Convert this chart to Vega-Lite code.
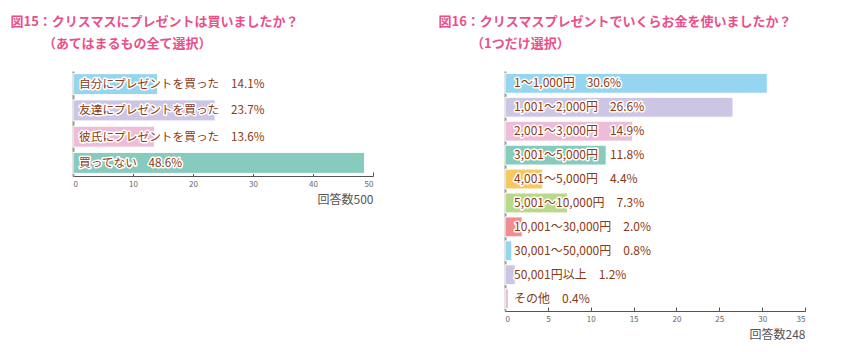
{
  "$schema": "https://vega.github.io/schema/vega-lite/v6.json",
  "background": "white",
  "padding": {"left": 10, "top": 16, "right": 5, "bottom": 5},
  "autosize": {"type": "pad"},
  "config": {
    "view": {"stroke": null},
    "font": "Noto Sans CJK JP",
    "concat": {"spacing": 64},
    "title": {"anchor": "start", "fontSize": 13, "fontWeight": "bold", "color": "#e9508a", "lineHeight": 22, "offset": 20},
    "axisX": {"grid": false, "tickSize": -4, "tickColor": "#555", "domainColor": "#555", "labelFontSize": 8, "labelColor": "#666", "labelPadding": 8, "titleAnchor": "end", "titleAlign": "right", "titleFontWeight": "normal", "titleFontSize": 12, "titleColor": "#555", "titlePadding": 6},
    "axisY": {"labels": false, "ticks": false, "title": null, "domainColor": "#999", "domainWidth": 2, "grid": false}
  },
  "resolve": {"scale": {"color": "independent"}},
  "hconcat": [
    {
      "width": 300,
      "height": 105,
      "title": {"text": ["図15：クリスマスにプレゼントは買いましたか？", "\u200b\u3000\u3000\u3000（あてはまるもの全て選択）"], "dx": -62},
      "data": {"values": [
        {"label": "自分にプレゼントを買った", "pct": 14.1, "text": "自分にプレゼントを買った　14.1%"},
        {"label": "友達にプレゼントを買った", "pct": 23.7, "text": "友達にプレゼントを買った　23.7%"},
        {"label": "彼氏にプレゼントを買った", "pct": 13.6, "text": "彼氏にプレゼントを買った　13.6%"},
        {"label": "買ってない", "pct": 48.6, "text": "買ってない　48.6%"}
      ]},
      "encoding": {
        "y": {"field": "label", "type": "nominal", "sort": null, "scale": {"paddingInner": 0.2, "paddingOuter": 0.1}}
      },
      "layer": [
        {
          "mark": {"type": "bar", "stroke": "white", "strokeWidth": 1},
          "encoding": {
            "x": {"field": "pct", "type": "quantitative", "scale": {"domain": [0, 50]}, "axis": {"values": [0, 10, 20, 30, 40, 50], "title": "回答数500"}},
            "color": {"field": "label", "type": "nominal", "legend": null, "scale": {"domain": ["自分にプレゼントを買った", "友達にプレゼントを買った", "彼氏にプレゼントを買った", "買ってない"], "range": ["#96d5f0", "#ccc5e4", "#ecbcd8", "#87cbbf"]}}
          }
        },
        {
          "mark": {"type": "text", "align": "left", "dx": 6, "fontSize": 11.7, "color": "white", "stroke": "white", "strokeWidth": 3, "strokeJoin": "round"},
          "encoding": {"x": {"datum": 0, "type": "quantitative"}, "text": {"field": "text"}}
        },
        {
          "mark": {"type": "text", "align": "left", "dx": 6, "fontSize": 11.7, "color": "#8b3a14"},
          "encoding": {"x": {"datum": 0, "type": "quantitative"}, "text": {"field": "text"}}
        }
      ]
    },
    {
      "width": 300,
      "height": 240,
      "title": {"text": ["図16：クリスマスプレゼントでいくらお金を使いましたか？", "\u200b\u3000\u3000\u3000（1つだけ選択）"], "dx": -66},
      "data": {"values": [
        {"label": "1～1,000円", "pct": 30.6, "text": "1～1,000円　30.6%"},
        {"label": "1,001～2,000円", "pct": 26.6, "text": "1,001～2,000円　26.6%"},
        {"label": "2,001～3,000円", "pct": 14.9, "text": "2,001～3,000円　14.9%"},
        {"label": "3,001～5,000円", "pct": 11.8, "text": "3,001～5,000円　11.8%"},
        {"label": "4,001～5,000円", "pct": 4.4, "text": "4,001～5,000円　4.4%"},
        {"label": "5,001～10,000円", "pct": 7.3, "text": "5,001～10,000円　7.3%"},
        {"label": "10,001～30,000円", "pct": 2.0, "text": "10,001～30,000円　2.0%"},
        {"label": "30,001～50,000円", "pct": 0.8, "text": "30,001～50,000円　0.8%"},
        {"label": "50,001円以上", "pct": 1.2, "text": "50,001円以上　1.2%"},
        {"label": "その他", "pct": 0.4, "text": "その他　0.4%"}
      ]},
      "encoding": {
        "y": {"field": "label", "type": "nominal", "sort": null, "scale": {"paddingInner": 0.17, "paddingOuter": 0.1}}
      },
      "layer": [
        {
          "mark": {"type": "bar", "stroke": "white", "strokeWidth": 1},
          "encoding": {
            "x": {"field": "pct", "type": "quantitative", "scale": {"domain": [0, 35]}, "axis": {"values": [0, 5, 10, 15, 20, 25, 30, 35], "title": "回答数248"}},
            "color": {"field": "label", "type": "nominal", "legend": null, "scale": {"domain": ["1～1,000円", "1,001～2,000円", "2,001～3,000円", "3,001～5,000円", "4,001～5,000円", "5,001～10,000円", "10,001～30,000円", "30,001～50,000円", "50,001円以上", "その他"], "range": ["#96d5f0", "#ccc5e4", "#ecbcd8", "#87cbbf", "#f5c860", "#b9d98a", "#f28c8e", "#96d5f0", "#ccc5e4", "#ecbcd8"]}}
          }
        },
        {
          "mark": {"type": "text", "align": "left", "dx": 9, "fontSize": 12, "color": "white", "stroke": "white", "strokeWidth": 3, "strokeJoin": "round"},
          "encoding": {"x": {"datum": 0, "type": "quantitative"}, "text": {"field": "text"}}
        },
        {
          "mark": {"type": "text", "align": "left", "dx": 9, "fontSize": 12, "color": "#8b3a14"},
          "encoding": {"x": {"datum": 0, "type": "quantitative"}, "text": {"field": "text"}}
        }
      ]
    }
  ]
}
